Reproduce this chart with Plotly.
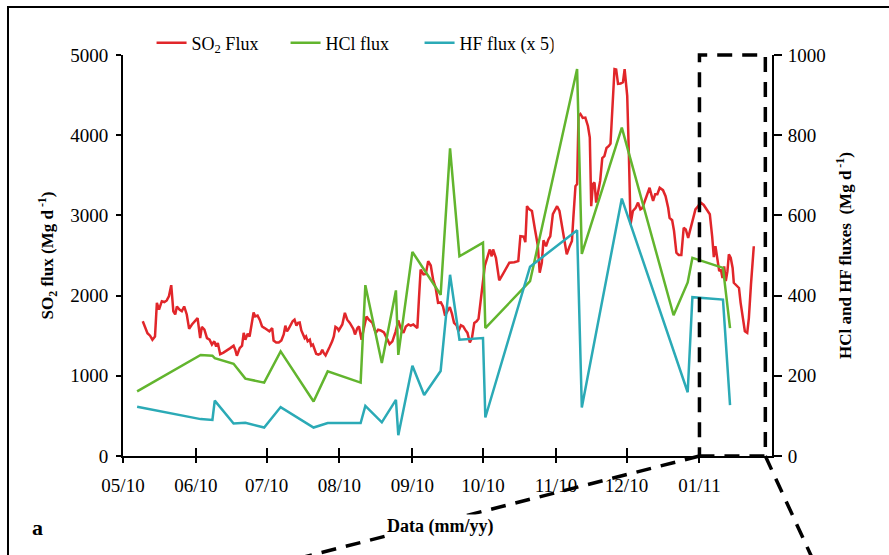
import pandas as pd
import plotly.graph_objects as go

# ---------------- data ----------------
start_date = "2010-05-01"

# SO2 flux (Mg/d): days after start_date, values
so2_day = [
    8.4, 9.4, 10.4, 11.5, 12.5, 13.6, 14.4, 15.3, 16.5, 17.6,
    18.6, 19.5, 20.5, 21.4, 22.2, 22.9, 24.0, 25.0, 26.0, 27.1,
    28.1, 29.3, 30.4, 31.7, 32.8, 33.5, 34.6, 35.7, 36.8, 37.8,
    38.8, 39.6, 40.3, 41.3, 42.7, 44.2, 45.6, 47.0, 47.7, 48.4,
    49.6, 50.6, 51.3, 52.0, 53.0, 53.8, 54.5, 55.5, 56.2, 57.2,
    58.1, 59.1, 60.2, 61.2, 62.2, 63.4, 64.0, 65.1, 66.2, 67.3,
    68.3, 69.0, 69.7, 70.4, 71.5, 72.1, 72.9, 73.7, 74.4, 75.1,
    75.8, 76.6, 77.2, 77.8, 78.5, 79.4, 80.0, 80.7, 81.4, 82.1,
    83.0, 83.9, 84.7, 85.3, 86.1, 86.8, 87.9, 88.9, 89.6, 90.3,
    91.1, 91.7, 93.2, 94.3, 95.3, 96.4, 97.9, 98.6, 99.6, 100.3,
    101.4, 102.4, 103.5, 104.5, 106.0, 107.4, 108.4, 109.5, 110.9, 112.1,
    113.3, 114.5, 115.9, 117.0, 118.0, 119.2, 120.2, 121.3, 122.3, 123.4,
    124.4, 125.1, 125.8, 126.5, 127.7, 128.7, 129.7, 130.8, 131.8, 132.9,
    133.9, 135.1, 136.0, 136.9, 137.9, 138.9, 139.8, 140.7, 141.8, 142.6,
    143.6, 144.6, 145.4, 146.4, 147.4, 148.3, 149.3, 150.3, 151.1, 151.8,
    152.8, 153.8, 155.0, 155.9, 156.7, 157.3, 158.5, 159.9, 161.4, 162.8,
    164.2, 166.3, 168.0, 168.9, 170.3, 171.0, 171.7, 172.7, 173.8, 175.1,
    176.3, 177.1, 178.0, 178.7, 179.8, 180.8, 181.6, 182.7, 183.6, 184.5,
    185.5, 186.5, 187.6, 188.6, 189.7, 190.8, 191.4, 192.3, 193.0, 193.6,
    194.4, 195.4, 196.5, 197.6, 198.4, 199.0, 199.7, 200.4, 201.1, 201.8,
    202.8, 203.7, 204.6, 205.5, 206.5, 207.2, 207.9, 208.9, 209.6, 210.4,
    211.5, 212.5, 213.2, 214.3, 215.0, 215.7, 216.7, 217.9, 218.9, 219.9,
    220.7, 221.7, 222.8, 223.8, 224.5, 225.3, 226.2, 227.1, 228.1, 229.5,
    230.6, 231.7, 232.3, 233.4, 234.2, 235.2, 236.2, 237.3, 238.3, 239.2,
    240.2, 241.2, 242.3, 243.3, 244.4, 245.5, 246.8, 248.0, 249.4, 250.4,
    251.1, 251.8, 252.7, 253.4, 254.1, 254.8, 255.5, 256.2, 256.9, 257.5,
    258.3, 259.1, 259.6, 260.8, 261.8, 262.5, 263.6, 264.3, 265.3, 266.0,
    266.9, 268.1,
]
so2_flux = [
    1680, 1600, 1530, 1500, 1450, 1490, 1910, 1825, 1930, 1920,
    1940, 1990, 2130, 1805, 1765, 1865, 1825, 1805, 1865, 1765,
    1585, 1640, 1680, 1720, 1470, 1610, 1575, 1470, 1450, 1390,
    1430, 1365, 1410, 1270, 1290, 1315, 1345, 1375, 1325, 1250,
    1345, 1375, 1535, 1450, 1525, 1490, 1595, 1790, 1740, 1750,
    1700, 1615, 1595, 1575, 1555, 1595, 1440, 1415, 1415, 1440,
    1515, 1625, 1555, 1585, 1640, 1680, 1700, 1625, 1660, 1665,
    1565, 1515, 1470, 1490, 1430, 1450, 1375, 1390, 1325, 1275,
    1265, 1275, 1325, 1285, 1255, 1305, 1365, 1430, 1490, 1610,
    1595, 1565, 1640, 1785, 1700, 1660, 1585, 1515, 1595, 1615,
    1450, 1595, 1740, 1700, 1660, 1535, 1575, 1565, 1540, 1470,
    1395, 1430, 1555, 1690, 1595, 1535, 1615, 1640, 1625, 1640,
    1615, 1595, 1970, 2325, 2265, 2270, 2430, 2375, 2200, 2095,
    1910, 1915, 1865, 1750, 1805, 1855, 1775, 1660, 1630, 1555,
    1630, 1615, 1575, 1535, 1415, 1470, 1660, 1680, 1710, 1865,
    2115, 2375, 2490, 2575, 2490, 2575, 2470, 2190, 2265, 2345,
    2410, 2415, 2430, 2740, 2735, 2665, 3115, 3075, 3055, 2825,
    2625, 2285, 2410, 2690, 2615, 2700, 2740, 3015, 3075, 3115,
    3055, 2890, 2660, 2515, 2605, 2680, 2970, 3365, 3390, 4240,
    4265, 4215, 4220, 4115, 3970, 3115, 3390, 3410, 3160, 3285,
    3430, 3715, 3740, 3840, 3865, 3895, 4265, 4825, 4820, 4640,
    4645, 4660, 4825, 4490, 3765, 2890, 3055, 3095, 3160, 3075,
    3090, 3180, 3285, 3345, 3265, 3180, 3265, 3265, 3345, 3315,
    3240, 3095, 2970, 2940, 2805, 2535, 2505, 2505, 2845, 2825,
    2720, 2825, 2970, 3075, 3115, 3160, 3130, 3075, 3015, 2740,
    2480, 2615, 2430, 2305, 2325, 2220, 2365, 2180, 2305, 2515,
    2470, 2345, 2160, 2130, 2095, 1910, 1720, 1555, 1535, 1720,
    2140, 2615,
]

# HCl flux (Mg/d)
hcl_dates = [
    "2010-05-07", "2010-06-03", "2010-06-08", "2010-06-09", "2010-06-17",
    "2010-06-22", "2010-06-30", "2010-07-07", "2010-07-21", "2010-07-27",
    "2010-08-10", "2010-08-12", "2010-08-19", "2010-08-25", "2010-08-26",
    "2010-09-01", "2010-09-13", "2010-09-17", "2010-09-21", "2010-10-01",
    "2010-10-02", "2010-10-21", "2010-11-10", "2010-11-12", "2010-11-29",
    "2010-12-21", "2010-12-27", "2010-12-29", "2011-01-11", "2011-01-14",
]
hcl_flux = [161, 252, 250, 244, 230, 193, 183, 261, 136, 211,
            183, 426, 232, 413, 252, 509, 402, 767, 498, 532,
            319, 436, 965, 504, 819, 351, 433, 494, 469, 319]

# HF flux x 5 (Mg/d)
hf_dates = [
    "2010-05-07", "2010-06-03", "2010-06-08", "2010-06-09", "2010-06-17",
    "2010-06-22", "2010-06-30", "2010-07-07", "2010-07-21", "2010-07-27",
    "2010-08-10", "2010-08-12", "2010-08-19", "2010-08-25", "2010-08-26",
    "2010-09-01", "2010-09-06", "2010-09-13", "2010-09-17", "2010-09-21",
    "2010-10-01", "2010-10-02", "2010-10-21", "2010-11-10", "2010-11-12",
    "2010-11-29", "2010-12-27", "2010-12-29", "2011-01-11", "2011-01-14",
]
hf_flux_x5 = [123, 92, 90, 138, 81, 83, 71, 122, 71, 82,
              82, 125, 84, 140, 52, 225, 152, 212, 452, 290,
              294, 96, 472, 563, 121, 642, 159, 396, 390, 127]

# axis definitions
x_start, x_end = "2010-05-01", "2011-01-31 20:00"
zoom_start, zoom_end = "2011-01-01", "2011-01-29"

# ---------------- figure ----------------
FONT = "Liberation Serif, Times New Roman, serif"
RED = "#E1262A"
GREEN = "#62B52E"
TEAL = "#2BAAB6"

t0 = pd.Timestamp(start_date)
so2_dates = [(t0 + pd.Timedelta(days=d)).strftime("%Y-%m-%d %H:%M") for d in so2_day]

fig = go.Figure()
fig.add_trace(go.Scatter(x=so2_dates, y=so2_flux, mode="lines", name="SO<sub>2</sub> Flux",
                         line=dict(color=RED, width=2.5), xaxis="x", yaxis="y"))
fig.add_trace(go.Scatter(x=hcl_dates, y=hcl_flux, mode="lines", name="HCl flux",
                         line=dict(color=GREEN, width=2.5), xaxis="x", yaxis="y2"))
fig.add_trace(go.Scatter(x=hf_dates, y=hf_flux_x5, mode="lines", name="HF flux (x 5)",
                         line=dict(color=TEAL, width=2.5), xaxis="x", yaxis="y2"))
# carrier for the crossing (inside) part of the month ticks
fig.add_trace(go.Scatter(x=[x_start], y=[None], mode="lines", xaxis="x2", yaxis="y",
                         showlegend=False, hoverinfo="skip"))

xs, xe = pd.Timestamp(x_start), pd.Timestamp(x_end)


def xf(d):
    return (pd.Timestamp(d) - xs) / (xe - xs)


axis_common = dict(showgrid=False, zeroline=False, showline=True, linecolor="black",
                   linewidth=2, tickcolor="black", tickwidth=1.5,
                   tickfont=dict(family=FONT, size=19, color="black"), automargin=False)

DASH = dict(color="black", width=3.5, dash="15px,10px")

fig.update_layout(
    width=889, height=555,
    margin=dict(l=123, r=117, t=55, b=99),
    paper_bgcolor="white", plot_bgcolor="white",
    font=dict(family=FONT, color="black"),
    showlegend=True,
    legend=dict(orientation="h", x=0.044, y=1.03, xanchor="left", yanchor="middle",
                font=dict(family=FONT, size=18, color="black"),
                bgcolor="rgba(0,0,0,0)", entrywidth=89, entrywidthmode="pixels",
                tracegroupgap=0),
    xaxis=dict(type="date", range=[x_start, x_end], tick0="2010-05-01", dtick="M1",
               tickformat="%m/%y", ticks="outside", ticklen=5, anchor="y",
               ticklabelstandoff=6, **axis_common),
    xaxis2=dict(type="date", range=[x_start, x_end], tick0="2010-05-01", dtick="M1",
                overlaying="x", anchor="y", side="bottom", ticks="inside", ticklen=8,
                showticklabels=False, showline=False, showgrid=False, zeroline=False,
                tickcolor="black", tickwidth=1.5),
    yaxis=dict(range=[0, 5000], dtick=1000, ticks="outside", ticklen=5, anchor="x",
               ticklabelstandoff=4,
               title=dict(text="SO<sub>2</sub> flux (Mg d<sup> -1</sup>)", standoff=12,
                          font=dict(family=FONT, size=17, weight="bold")),
               **axis_common),
    yaxis2=dict(range=[0, 1000], dtick=200, ticks="outside", ticklen=8, overlaying="y",
                side="right", anchor="x", ticklabelstandoff=2,
                title=dict(text="HCl and HF fluxes  (Mg d<sup> -1</sup>)", standoff=14,
                           font=dict(family=FONT, size=17, weight="bold")),
                **axis_common),
    shapes=[
        # outer frame
        dict(type="rect", xref="paper", yref="paper", x0=-0.1772, x1=1.3, y0=-0.4, y1=1.1197,
             line=dict(color="black", width=2), fillcolor="rgba(0,0,0,0)", layer="below"),
        # zoom box (dashed) and its projection lines
        dict(type="rect", xref="paper", yref="paper", x0=xf(zoom_start), x1=xf(zoom_end),
             y0=0, y1=1, line=DASH, fillcolor="rgba(0,0,0,0)"),
        dict(type="line", xref="paper", yref="paper", x0=xf(zoom_start), y0=0,
             x1=0.2727, y1=-0.2544, line=DASH),
        dict(type="line", xref="paper", yref="paper", x0=xf(zoom_end), y0=0,
             x1=1.074, y1=-0.297, line=DASH),
    ],
    annotations=[
        dict(text="<b>Data (mm/yy)</b>", xref="paper", yref="paper", x=0.4884, y=-0.177,
             xanchor="center", yanchor="middle", showarrow=False, bgcolor="white",
             font=dict(family=FONT, size=18, color="black")),
        dict(text="<b>a</b>", xref="paper", yref="paper", x=-0.1325, y=-0.178,
             xanchor="center", yanchor="middle", showarrow=False,
             font=dict(family=FONT, size=22, color="black")),
    ],
)

fig.write_html("out.html")
